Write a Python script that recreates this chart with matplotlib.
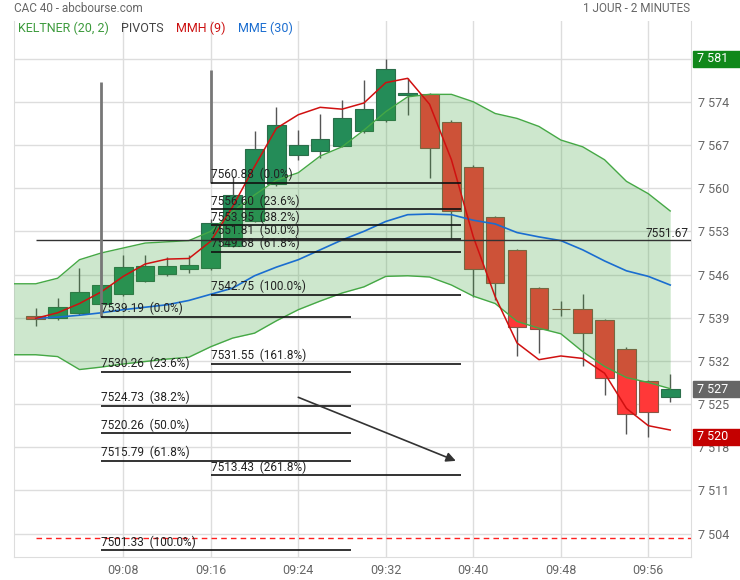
import matplotlib
matplotlib.use("Agg")
import matplotlib.pyplot as plt
from matplotlib.patches import Rectangle
from matplotlib.ticker import FuncFormatter

plt.rcParams['font.family'] = ['Roboto', 'DejaVu Sans']

# bougies 2 minutes, 09:00 -> 09:58
opens = [7539.2, 7538.9, 7539.7, 7541.3, 7542.8, 7545.0, 7546.1, 7546.9, 7547.1, 7550.7,
         7554.7, 7560.6, 7565.3, 7566.1, 7566.9, 7569.2, 7571.0, 7575.1, 7575.2, 7570.8,
         7563.5, 7555.3, 7549.9, 7543.8, 7540.4, 7540.4, 7538.6, 7534.0, 7528.7, 7526.2]
highs = [7540.6, 7542.2, 7547.1, 7546.7, 7549.2, 7549.2, 7548.9, 7549.2, 7555.0, 7561.8,
         7569.2, 7573.2, 7569.4, 7572.0, 7574.3, 7577.5, 7581.0, 7577.9, 7575.4, 7571.0,
         7563.7, 7555.5, 7550.1, 7544.0, 7541.7, 7542.8, 7538.8, 7534.2, 7528.9, 7529.8]
lows = [7537.7, 7538.7, 7539.5, 7541.0, 7542.6, 7544.8, 7545.7, 7546.3, 7546.8, 7550.5,
        7554.5, 7560.4, 7564.6, 7564.9, 7566.7, 7569.0, 7570.8, 7571.9, 7561.6, 7551.9,
        7542.4, 7541.9, 7532.8, 7533.3, 7539.2, 7531.2, 7526.5, 7520.2, 7519.7, 7525.4]
closes = [7538.8, 7540.7, 7543.2, 7544.3, 7547.2, 7547.4, 7547.4, 7547.5, 7554.4, 7558.9,
          7566.4, 7570.2, 7567.0, 7568.0, 7571.3, 7572.8, 7579.3, 7575.5, 7566.5, 7556.3,
          7546.9, 7544.7, 7537.5, 7537.1, 7540.4, 7536.6, 7529.3, 7523.4, 7523.8, 7527.4]

# Keltner (20, 2) : commence une barre avant la premiere bougie
kelt_upper = [7544.5, 7544.5, 7545.4, 7548.4, 7549.5, 7550.3, 7551.1, 7551.3, 7551.5, 7553.0,
              7556.2, 7558.9, 7561.3, 7562.5, 7565.2, 7566.7, 7569.4, 7572.4, 7574.8, 7575.2,
              7575.2, 7574.0, 7572.1, 7571.3, 7570.0, 7567.8, 7566.7, 7564.6, 7561.1, 7559.1,
              7556.3]
kelt_lower = [7533.0, 7533.0, 7532.7, 7530.6, 7531.0, 7531.5, 7531.9, 7532.3, 7532.6, 7534.3,
              7535.7, 7536.5, 7538.5, 7540.3, 7541.7, 7543.0, 7544.0, 7545.7, 7545.8, 7545.6,
              7544.3, 7542.5, 7541.3, 7538.4, 7537.3, 7536.4, 7533.5, 7531.1, 7529.3, 7528.5,
              7527.5]

mmh = [7538.9, 7539.8, 7541.3, 7543.2, 7545.7, 7547.7, 7548.5, 7548.6, 7551.4, 7557.0,
       7563.5, 7569.7, 7571.9, 7573.1, 7572.8, 7573.8, 7577.1, 7577.8, 7573.6, 7564.6,
       7552.1, 7542.4, 7534.9, 7532.2, 7532.8, 7532.4, 7530.0, 7524.3, 7521.5, 7520.8]
mme = [7538.9, 7539.1, 7539.4, 7539.8, 7540.3, 7540.7, 7541.1, 7541.8, 7542.8, 7543.8,
       7545.8, 7547.2, 7548.4, 7550.0, 7551.6, 7553.0, 7554.6, 7555.7, 7555.8, 7555.7,
       7554.8, 7554.2, 7552.8, 7552.1, 7551.5, 7550.0, 7548.2, 7546.6, 7545.7, 7544.3]

# pivots / fibonacci
fib_a_start = 3
fib_a_top = 7577.2
fib_a_levels = [7539.19, 7530.26, 7524.73, 7520.26, 7515.79, 7501.33]
fib_a_pcts = ["0.0%", "23.6%", "38.2%", "50.0%", "61.8%", "100.0%"]
fib_b_start = 8
fib_b_top = 7579.2
fib_b_levels = [7560.88, 7556.60, 7553.95, 7551.81, 7549.68, 7542.75, 7531.55, 7513.43]
fib_b_pcts = ["0.0%", "23.6%", "38.2%", "50.0%", "61.8%", "100.0%", "161.8%", "261.8%"]
pivot_level = 7551.67
ref_level = 7503.3
arrow_from = (12, 7526.1)
arrow_to = (19.2, 7515.8)

xtick_pos = [4, 8, 12, 16, 20, 24, 28]
xtick_labels = ["09:08", "09:16", "09:24", "09:32", "09:40", "09:48", "09:56"]
yticks = [7504, 7511, 7518, 7525, 7532, 7539, 7546, 7553, 7560, 7567, 7574, 7581]

W, H = 740, 580
fig = plt.figure(figsize=(W / 100, H / 100), dpi=100)
ax = fig.add_axes([14.3 / W, (H - 557.3) / H, (691 - 14.3) / W, (557.3 - 21) / H])
ax.set_xlim(-0.98, 29.95)
ax.set_ylim(7500.17, 7587.09)

n = len(opens)
xs = list(range(n))

# bougies
ax.vlines(xs, lows, highs, color="#555555", lw=1, zorder=2)
for i in xs:
    up = closes[i] > opens[i]
    ax.bar(i, closes[i] - opens[i], bottom=opens[i], width=0.85,
           color="#248c58" if up else "#ff3838",
           edgecolor="#2b6e4a" if up else "#8a5545", lw=0.8, zorder=2.5)

# keltner, par dessus les bougies
kx = list(range(-1, n))
ax.fill_between(kx, kelt_lower, kelt_upper, color="#3aa23a", alpha=0.25, lw=0, zorder=3)
ax.plot(kx, kelt_upper, color="#45a845", lw=1, zorder=3.5)
ax.plot(kx, kelt_lower, color="#45a845", lw=1, zorder=3.5)

ax.plot(xs, mme, color="#1a6dd0", lw=1.2, zorder=4)
ax.plot(xs, mmh, color="#d01010", lw=1.1, zorder=4.2)

# lignes horizontales
ax.hlines(pivot_level, 0, 29.95, color="#333333", lw=1, zorder=4.5)
ax.text(29.85, pivot_level, "%.2f" % pivot_level, ha="right", va="bottom",
        fontsize=8.5, color="#222222", zorder=6)
ax.hlines(ref_level, 0, 29.95, color="#ff2020", lw=1, linestyles=(0, (4, 3)), zorder=4.5)

# fibonacci
fib_len = 11.43
for start, top, levels, pcts in [(fib_a_start, fib_a_top, fib_a_levels, fib_a_pcts),
                                 (fib_b_start, fib_b_top, fib_b_levels, fib_b_pcts)]:
    ax.vlines(start, levels[0], top, color="#777777", lw=2, zorder=4.6)
    for lvl, pct in zip(levels, pcts):
        ax.hlines(lvl, start, start + fib_len, color="#111111", lw=1.2, zorder=5)
        ax.text(start, lvl + 0.25, "%.2f  (%s)" % (lvl, pct), ha="left", va="bottom",
                fontsize=8.5, color="#222222", zorder=6)

ax.annotate("", xy=arrow_to, xytext=arrow_from,
            arrowprops=dict(arrowstyle="-|>", color="#333333", lw=1.2,
                            mutation_scale=14, shrinkA=0, shrinkB=0), zorder=6)

# axes
ax.set_xticks(xtick_pos)
ax.set_xticklabels(xtick_labels)
ax.set_yticks(yticks)
ax.yaxis.set_major_formatter(FuncFormatter(lambda v, p: ("%d" % v)[0] + " " + ("%d" % v)[1:]))
ax.yaxis.tick_right()
ax.tick_params(axis="both", length=0, labelsize=9, colors="#666666")
ax.tick_params(axis="y", pad=5)
ax.tick_params(axis="x", pad=5)
ax.grid(True, color="#dddddd", lw=1, zorder=0)
ax.set_axisbelow(True)
for s in ["left", "right", "bottom"]:
    ax.spines[s].set_color("#dddddd")
ax.spines["top"].set_visible(False)

# etiquettes de prix a droite
fig.canvas.draw()
for val, col in [(max(highs), "#10881a"), (closes[-1], "#666666"), (min(lows), "#c40000")]:
    ypix = ax.transData.transform((0, val))[1]
    fig.add_artist(Rectangle((693 / W, (ypix - 8) / H), 47 / W, 16 / H,
                             transform=fig.transFigure, color=col, zorder=10))
    txt = "%d" % round(val)
    fig.text(697 / W, ypix / H, txt[0] + " " + txt[1:], color="white", fontsize=9,
             va="center", ha="left", zorder=11)

# titre et legende
fig.text(14 / W, 1 - 9 / H, "CAC 40 - abcbourse.com", color="#666666", fontsize=8.5, va="center")
fig.text(690 / W, 1 - 9 / H, "1 JOUR - 2 MINUTES", color="#666666", fontsize=8.5,
         va="center", ha="right")
legend = [("KELTNER (20, 2)", "#3c9a3c", 18), ("PIVOTS", "#444444", 121),
          ("MMH (9)", "#cc1111", 176), ("MME (30)", "#1a6dd0", 238)]
for label, col, xp in legend:
    fig.text(xp / W, 1 - 28 / H, label, color=col, fontsize=9, va="center")

fig.savefig("out.png", dpi=100)
